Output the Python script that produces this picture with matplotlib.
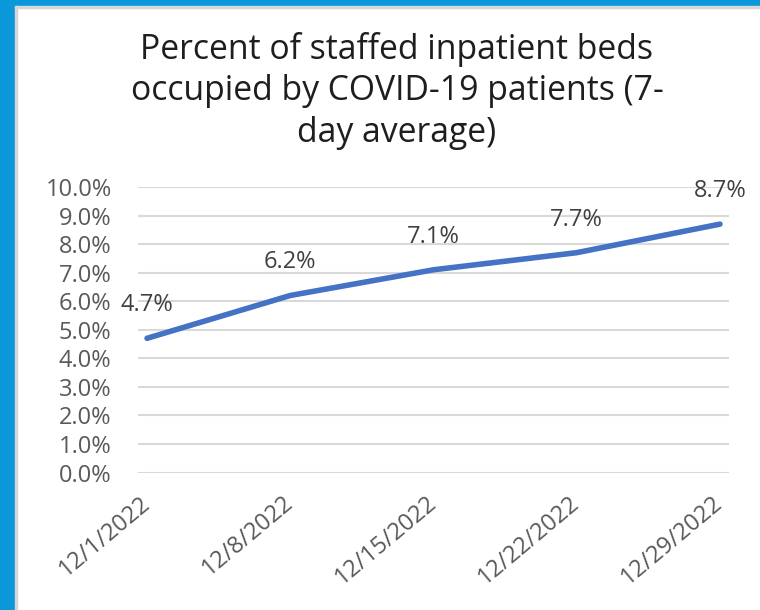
import matplotlib
matplotlib.use("Agg")
import matplotlib.pyplot as plt
from matplotlib.patches import Rectangle

dates = ["12/1/2022", "12/8/2022", "12/15/2022", "12/22/2022", "12/29/2022"]
pct = [4.7, 6.2, 7.1, 7.7, 8.7]
yticks = [0, 1, 2, 3, 4, 5, 6, 7, 8, 9, 10]
title = "Percent of staffed inpatient beds\noccupied by COVID-19 patients (7-\nday average)"

plt.rcParams['font.family'] = ['Open Sans', 'DejaVu Sans']
W, H = 760, 610
fig = plt.figure(figsize=(W / 100, H / 100), dpi=100)
fig.patch.set_facecolor("white")

# blue frame on the left and top, thin grey line inside it
blue = "#0a98db"
fig.patches.append(Rectangle((0, 0), 15 / W, 1, transform=fig.transFigure, color=blue, zorder=0))
fig.patches.append(Rectangle((0, 1 - 6 / H), 1, 6 / H, transform=fig.transFigure, color=blue, zorder=0))
fig.patches.append(Rectangle((15 / W, 0), 2 / W, 1 - 6 / H, transform=fig.transFigure, color="#d6d6d6", zorder=0))
fig.patches.append(Rectangle((15 / W, 1 - 8 / H), 1, 2 / H, transform=fig.transFigure, color="#d6d6d6", zorder=0))

ax = fig.add_axes([138 / W, 1 - 472.5 / H, (729 - 138) / W, (472.5 - 187) / H])
x = list(range(len(dates)))
ax.plot(x, pct, color="#4472c4", lw=4, solid_capstyle="round", solid_joinstyle="round", zorder=3)

for i, v in enumerate(pct):
    ax.annotate("{:.1f}%".format(v), (i, v), xytext=(0, 33), textcoords="offset pixels",
                ha="center", va="center", fontsize=17, color="#404040")

ax.set_xlim(-0.063, len(dates) - 1 + 0.063)
ax.set_ylim(0, 10)
ax.set_yticks(yticks)
ax.set_yticklabels(["{:.1f}%".format(t) for t in yticks])
ax.set_xticks(x)
ax.set_xticklabels(dates, rotation=40, ha="right", va="center", rotation_mode="anchor")
ax.tick_params(axis="y", length=0, pad=19, labelsize=17, labelcolor="#595959")
ax.tick_params(axis="x", length=0, pad=20, labelsize=17, labelcolor="#595959")
ax.grid(axis="y", color="#d9d9d9", lw=1.5)
ax.set_axisbelow(True)
for s in ax.spines.values():
    s.set_visible(False)

fig.text(397 / W, 1 - 91 / H, title, ha="center", va="center", fontsize=24.3,
         color="#1e1e1e", linespacing=1.27)

fig.savefig("out.png", dpi=100)
